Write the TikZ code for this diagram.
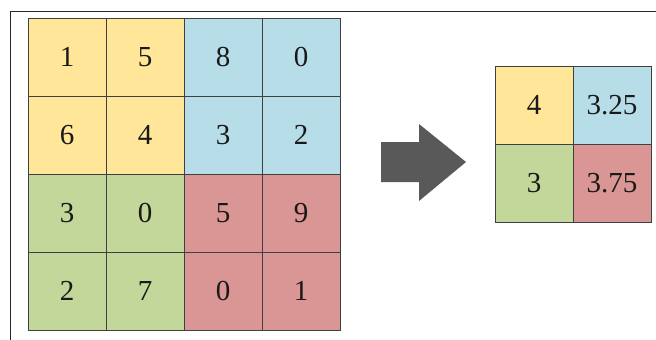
\documentclass[tikz,border=0pt]{standalone}
\usepackage{fontspec}
\setmainfont{Liberation Serif}
\definecolor{cyel}{HTML}{FFE699}
\definecolor{cblu}{HTML}{B7DEE8}
\definecolor{cgrn}{HTML}{C4D79B}
\definecolor{cred}{HTML}{D99694}
\definecolor{carr}{HTML}{595959}
\tikzset{
  cell/.style={draw=black!75, line width=0.8pt, minimum width=78pt, minimum height=78pt,
    inner sep=0pt, font=\fontsize{29}{29}\selectfont, text=black!90},
  frameline/.style={draw=black!85, line width=0.9pt},
}
\begin{document}
\begin{tikzpicture}[x=1pt,y=-1pt]
\useasboundingbox (0,0) rectangle (656,340);
% frame
\coordinate (ftr) at (656,11);
\coordinate (fc) at (10,11);
\coordinate (fbl) at (10,340);
\draw[frameline] (ftr) -- (fc) -- (fbl);
% input 4x4 grid
\foreach \v [count=\k from 0] in {1,5,8,0,6,4,3,2,3,0,5,9,2,7,0,1} {
  \pgfmathtruncatemacro{\r}{div(\k,4)}
  \pgfmathtruncatemacro{\c}{mod(\k,4)}
  \pgfmathsetmacro{\cx}{28+39+78*\c}
  \pgfmathsetmacro{\cy}{18+39+78*\r}
  \ifnum\r<2 \ifnum\c<2 \def\col{cyel}\else\def\col{cblu}\fi
  \else \ifnum\c<2 \def\col{cgrn}\else\def\col{cred}\fi\fi
  \node[cell, fill=\col] (L-\r-\c) at (\cx,\cy) {\v};
}
% arrow
\fill[carr] (381,142) -- (419,142) -- (419,124) -- (466,162) -- (419,201) -- (419,182) -- (381,182) -- cycle;
% output 2x2 grid
\node[cell, fill=cyel] (R-0-0) at (495+39,66+39) {4};
\node[cell, fill=cblu] (R-0-1) at (495+39+78,66+39) {3.25};
\node[cell, fill=cgrn] (R-1-0) at (495+39,66+39+78) {3};
\node[cell, fill=cred] (R-1-1) at (495+39+78,66+39+78) {3.75};
\end{tikzpicture}
\end{document}
